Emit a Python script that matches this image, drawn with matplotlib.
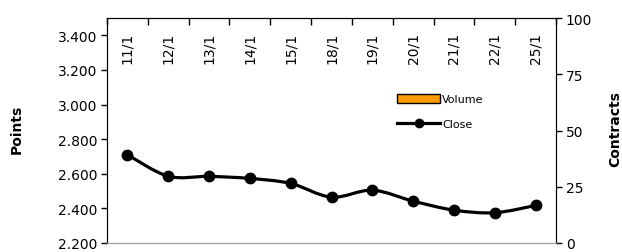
import numpy as np
import matplotlib
matplotlib.use('Agg')
from matplotlib import pyplot as plt
from matplotlib.path import Path
from matplotlib.patches import PathPatch, Patch
from matplotlib.lines import Line2D
from matplotlib.ticker import FixedLocator, FuncFormatter

dates = ['11/1', '12/1', '13/1', '14/1', '15/1', '18/1', '19/1', '20/1', '21/1', '22/1', '25/1']
close = [2.710, 2.586, 2.585, 2.573, 2.544, 2.465, 2.505, 2.442, 2.390, 2.375, 2.417]
volume = []  # no volume bars shown
left_ticks = [2.2, 2.4, 2.6, 2.8, 3.0, 3.2, 3.4]
right_ticks = [0, 25, 50, 75, 100]

plt.rcParams['font.family'] = 'DejaVu Sans'

fig = plt.figure(figsize=(6.22, 2.53), dpi=100)
ax = fig.add_axes([107 / 622, 9 / 253, 449 / 622, 225 / 253])
ax2 = ax.twinx()

x = np.arange(len(dates))

# smoothed line (Catmull-Rom style bezier, like Excel's smoothed line)
pts = np.column_stack([x, close]).astype(float)
verts = [pts[0]]
codes = [Path.MOVETO]
n = len(pts)
for i in range(n - 1):
    p0 = pts[max(i - 1, 0)]
    p1 = pts[i]
    p2 = pts[i + 1]
    p3 = pts[min(i + 2, n - 1)]
    c1 = p1 + (p2 - p0) / 6.0
    c2 = p2 - (p3 - p1) / 6.0
    verts += [c1, c2, p2]
    codes += [Path.CURVE4] * 3
ax.add_patch(PathPatch(Path(verts, codes), fc='none', ec='black', lw=2.3, zorder=3))
ax.plot(x, close, 'o', color='black', markersize=7.5, zorder=4)

ax.set_xlim(-0.5, len(dates) - 0.5)
ax.set_ylim(2.2, 3.5)
ax2.set_ylim(0, 100)

ax.yaxis.set_major_locator(FixedLocator(left_ticks))
ax.yaxis.set_major_formatter(FuncFormatter(lambda v, p: '{:.3f}'.format(v)))
ax2.yaxis.set_major_locator(FixedLocator(right_ticks))
ax.tick_params(axis='y', labelsize=10, length=4, width=1, pad=3)
ax2.tick_params(axis='y', labelsize=10, length=4, width=1, pad=3)

# x ticks at category boundaries on top, pointing inward
ax.xaxis.set_ticks_position('top')
ax.set_xticks(np.arange(len(dates) + 1) - 0.5)
ax.set_xticklabels([])
ax.tick_params(axis='x', direction='in', length=5, width=1, top=True, bottom=False)
ax2.tick_params(axis='x', top=False, bottom=False)

trans = matplotlib.transforms.blended_transform_factory(ax.transData, ax.transAxes)
for xi, d in zip(x, dates):
    ax.text(xi, 1 - 14 / 225, d, rotation=90, ha='center', va='top', fontsize=10, transform=trans)

for a in (ax, ax2):
    a.spines['bottom'].set_color('#a0a0a0')
    a.spines['top'].set_color('black')
    a.patch.set_visible(False)

fig.text(17 / 622, 0.49, 'Points', rotation=90, ha='center', va='center', fontsize=10, fontweight='bold')
fig.text(615 / 622, 0.49, 'Contracts', rotation=90, ha='center', va='center', fontsize=10, fontweight='bold')

handles = [Patch(facecolor='#FF9900', edgecolor='black', linewidth=1),
           Line2D([0], [0], color='black', lw=2.3, marker='o', markersize=6)]
leg = ax.legend(handles, ['Volume', 'Close'], loc='upper left',
                bbox_to_anchor=((397 - 107) / 449, (244 - 95) / 225), frameon=False,
                fontsize=8, handlelength=3.9, handleheight=0.8, handletextpad=0.15,
                labelspacing=1.35, borderpad=0, borderaxespad=0)

fig.savefig('out.png', dpi=100)
